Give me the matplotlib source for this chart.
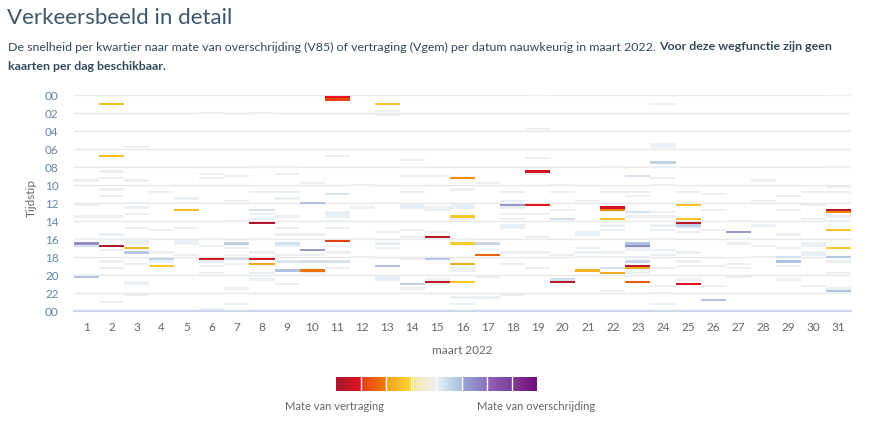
import numpy as np
import matplotlib
matplotlib.use("Agg")
import matplotlib.pyplot as plt
from matplotlib.colors import LinearSegmentedColormap, Normalize

plt.rcParams['font.family'] = ['Lato', 'DejaVu Sans']

# days of March 2022 and hour ticks
days = list(range(1, 32))
hour_ticks = list(range(0, 25, 2))
hour_labels = ['00', '02', '04', '06', '08', '10', '12', '14', '16', '18', '20', '22', '00']

# quarter-hour cells that are close to normal speed (value ~ 0), per day
faint_quarters = [
    [38, 49, 54, 64, 80],
    [34, 37, 42, 45, 54, 62, 64, 69, 74, 77, 92],
    [23, 38, 48, 50, 53, 59, 64, 65, 66, 75, 83, 84, 89],
    [43, 60, 70, 74],
    [46, 48, 59, 65, 66, 71],
    [8, 35, 37, 64, 67, 74, 76, 79, 95],
    [36, 47, 56, 68, 71, 75, 86, 93],
    [8, 32, 43, 53, 55, 64, 70, 79, 82],
    [32, 35, 43, 46, 54, 59, 62, 67, 71, 84],
    [39, 62, 71, 79],
    [27, 52, 53, 54, 56, 59, 70, 77],
    [40, 50, 64, 72],
    [7, 9, 48, 61, 66, 68, 81, 82],
    [29, 32, 36, 43, 49, 50, 60, 63, 73, 86],
    [36, 50, 51, 61, 64, 82, 84],
    [42, 49, 50, 55, 64, 77, 78, 90, 93],
    [39, 81, 90],
    [43, 47, 50, 53, 55, 58, 59, 70, 75, 89],
    [0, 15, 28, 35, 53, 63, 70, 77],
    [40, 43, 51, 71],
    [47, 61, 62, 68, 70, 72],
    [32, 43, 58, 60, 70, 72, 87],
    [43, 45, 54, 68, 69, 72, 79],
    [4, 22, 23, 32, 37, 40, 52, 54, 58, 60, 64, 69, 71, 77, 85, 88, 93],
    [43, 59, 61, 70, 74, 76, 82],
    [44, 51, 60, 76, 85],
    [56, 64, 66, 75, 77, 81],
    [38, 47, 58, 67, 72],
    [45, 51, 62, 68, 76, 82],
    [43, 49, 55, 66, 67, 70, 71, 85],
    [0, 32, 41, 43, 54, 56, 74, 79, 86],
]

# coloured cells: day, quarter index, value (<0 vertraging, >0 overschrijding)
cell_day = [1, 1, 1, 2, 2, 2, 3, 3, 4, 4, 5, 6, 7, 7, 8, 8, 8, 8,
            9, 9, 9, 10, 10, 10, 10, 11, 11, 11, 11, 11, 13, 13, 14,
            15, 15, 15, 16, 16, 16, 16, 16, 17, 17, 18, 19, 19,
            20, 20, 20, 21, 22, 22, 22, 22, 22,
            23, 23, 23, 23, 23, 23, 23, 23, 24,
            25, 25, 25, 25, 25, 26, 27, 29, 29,
            31, 31, 31, 31, 31, 31]
cell_quarter = [66, 67, 81, 4, 27, 67, 68, 70, 73, 76, 51, 73, 66, 73, 51, 57, 73, 75,
                66, 74, 78, 48, 69, 74, 78, 1, 2, 44, 65, 74, 4, 76, 84,
                63, 73, 83, 37, 54, 66, 75, 83, 66, 71, 49, 34, 49,
                55, 82, 83, 78, 50, 51, 55, 77, 79,
                36, 52, 66, 67, 74, 76, 77, 83, 30,
                49, 55, 57, 58, 84, 91, 61, 72, 74,
                51, 52, 60, 68, 72, 87]
cell_value = [1.5, 0.3, 0.9, -1.5, -1.5, -3.8, -1.6, 0.8, 0.6, -1.3, -1.5, -3.3, 0.6, 0.4, 0.3, -3.8, -3.3, -1.9,
              0.35, 0.2, 0.9, 0.9, 1.3, 0.35, -2.2, -3.0, -2.8, 0.3, -2.9, 0.3, -1.4, 0.9, 0.6,
              -3.6, 0.8, -3.6, -2.0, -1.3, -1.3, -1.8, -1.3, 0.5, -2.4, 1.3, -3.3, -3.0,
              0.35, 0.4, -3.6, -1.7, -3.3, -2.0, -1.4, 0.3, -1.8,
              0.3, 0.3, 0.9, 1.5, 0.5, -3.7, -1.8, -2.5, 0.6,
              -1.4, -1.4, -3.7, 0.6, -3.2, 0.9, 1.3, 0.3, 0.9,
              -3.7, -2.0, -1.4, -1.3, 0.8, 0.9]

cmap = LinearSegmentedColormap.from_list('verkeer', [
    (0.0, '#a51c30'), (0.125, '#e8101a'), (0.13, '#e63c14'), (0.25, '#f08200'),
    (0.255, '#f5a21e'), (0.375, '#fdd835'), (0.38, '#f7e6a8'), (0.5, '#eceff3'),
    (0.505, '#e6eff6'), (0.625, '#a9bedb'), (0.63, '#9aa8d4'), (0.75, '#8672bb'),
    (0.755, '#9462b2'), (0.875, '#7c3f9f'), (0.88, '#853c99'), (1.0, '#6e0f78')])
norm = Normalize(-4, 4)

grid = np.full((96, 31), np.nan)
for d, qs in zip(days, faint_quarters):
    for q in qs:
        grid[q, d - 1] = 0.0
for d, q, v in zip(cell_day, cell_quarter, cell_value):
    grid[q, d - 1] = v

fig = plt.figure(figsize=(8.7, 4.32), dpi=100)
ax = fig.add_axes([74 / 870, 1 - 311 / 432, 777 / 870, 216 / 432])

x_edges = np.arange(0.5, 32.5, 1.0)
y_edges = np.arange(97) * 0.25 - 0.125
ax.pcolormesh(x_edges, y_edges, np.ma.masked_invalid(grid), cmap=cmap, norm=norm, zorder=2)

ax.set_xlim(0.5, 31.5)
ax.set_ylim(24, 0)
ax.set_yticks(hour_ticks)
ax.set_yticklabels(hour_labels)
ax.set_xticks(days)
ax.set_xticklabels([str(d) for d in days])
for h in hour_ticks[:-1]:
    ax.axhline(h, color='#e6e6e6', lw=1, zorder=1)
for s in ['top', 'left', 'right']:
    ax.spines[s].set_visible(False)
ax.spines['bottom'].set_color('#ccd6eb')
ax.spines['bottom'].set_linewidth(1.6)
ax.spines['bottom'].set_zorder(3)
ax.tick_params(axis='y', length=0, pad=11, labelsize=8.5, labelcolor='#5f86ad')
ax.tick_params(axis='x', length=0, pad=8, labelsize=8.5, labelcolor='#666666')

fig.text(31 / 870, 1 - 198 / 432, 'Tijdstip', rotation=90, ha='center', va='center',
         fontsize=8.5, color='#666666')
fig.text(462 / 870, 1 - 350 / 432, 'maart 2022', ha='center', va='center',
         fontsize=8.5, color='#666666')

# title and subtitle
fig.text(7 / 870, 1 - 18 / 432, 'Verkeersbeeld in detail', ha='left', va='center',
         fontsize=16, color='#3d566b', fontweight='normal')
sub1 = fig.text(8 / 870, 1 - 47 / 432,
                'De snelheid per kwartier naar mate van overschrijding (V85) of vertraging (Vgem) '
                'per datum nauwkeurig in maart 2022. ',
                ha='left', va='center', fontsize=8.9, color='#34495e')
fig.canvas.draw()
bb = sub1.get_window_extent()
fig.text(bb.x1 / 870, 1 - 47 / 432, 'Voor deze wegfunctie zijn geen', ha='left', va='center',
         fontsize=8.9, color='#34495e', fontweight='bold')
fig.text(8 / 870, 1 - 67 / 432, 'kaarten per dag beschikbaar.', ha='left', va='center',
         fontsize=8.9, color='#34495e', fontweight='bold')

# legend colour bar
lax = fig.add_axes([336 / 870, 1 - 391 / 432, 201 / 870, 14 / 432])
lax.imshow(np.linspace(0, 1, 400)[None, :], cmap=cmap, aspect='auto', extent=[0, 8, 0, 1])
for i in range(1, 8):
    lax.axvline(i, color='white', lw=1)
lax.axis('off')
fig.text(335 / 870, 1 - 407 / 432, 'Mate van vertraging', ha='center', va='center',
         fontsize=8, color='#666666')
fig.text(536 / 870, 1 - 407 / 432, 'Mate van overschrijding', ha='center', va='center',
         fontsize=8, color='#666666')

fig.savefig('out.png', dpi=100)
